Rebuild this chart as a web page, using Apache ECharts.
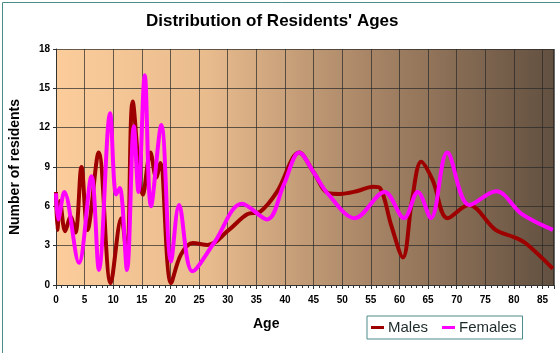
<!DOCTYPE html>
<html>
<head>
<meta charset="utf-8">
<script src="https://cdn.jsdelivr.net/npm/echarts@6/dist/echarts.min.js"></script>
<style>
html,body{margin:0;padding:0;background:#fff;}
#chart{width:560px;height:353px;}
</style>
</head>
<body>
<div id="chart"></div>
<script>
//数据
var maleAge=[0,0.25,0.7,1.6,2.55,3.4,4.45,5.5,7.45,9.55,11.4,12.4,13.4,15.2,16.5,17.5,18.2,20.1,21.8,23.9,26.5,30.2,33.4,35.7,38.6,42.5,45,47.6,49.6,52.5,55.4,56.6,58.6,60.6,62.2,63.8,65.8,68.4,72.1,76.8,80,82,86.8];
var maleCount=[7.1,4.2,6.4,4.1,5.2,4.0,9.0,4.2,10.1,0.15,5.1,2.0,14.0,6.9,10.1,8.2,9.3,0.15,2.3,3.2,3.05,4.2,5.4,5.6,7.1,10.1,8.6,7.0,6.95,7.15,7.5,7.4,4.5,2.1,6.5,9.4,8.0,5.1,6.1,4.2,3.65,3.2,1.25];
var femaleAge=[0,0.4,1.45,4.0,6.2,7.5,9.45,10.5,11.15,12.4,13.6,14.4,15.5,16.6,18.4,20.1,21.5,23.85,27.6,32.5,36.9,39.8,42.5,45,47.6,52.2,57.4,60.8,63.2,65.5,68.35,72.2,76.9,81.4,86.8];
var femaleCount=[7.0,5.0,7.1,1.7,8.3,1.15,13.1,6.9,7.4,1.15,12.1,7.1,16.0,6.0,12.2,1.8,6.1,1.05,3.2,6.2,5.0,7.65,10.1,8.6,6.9,5.1,7.1,5.1,7.1,5.1,10.1,6.1,7.15,5.4,4.2];
var xTicks=[0,87,5];
var yTicks=[0,18,3];

function pairs(a,b){
    var d=[];
    for(var i=0;i<a.length;i++){ d.push([a[i],b[i]]); }
    return d;
}

var myChart=echarts.init(document.getElementById('chart'));
var option={
    animation:false,
    backgroundColor:'#fff',
    title:{
        text:"Distribution of Residents' Ages",
        left:146,
        top:13,
        padding:0,
        textStyle:{fontFamily:'Liberation Sans, Arial',fontSize:17,fontWeight:'bold',color:'#000'}
    },
    legend:{
        left:367,
        top:316,
        padding:[4,6,4,4],
        itemGap:14,
        itemWidth:13,
        itemHeight:3,
        icon:'rect',
        borderColor:'#4d8c8c',
        borderWidth:1,
        textStyle:{fontFamily:'Liberation Sans, Arial',fontSize:15,color:'#1e2a2a',padding:[0,0,0,-1]},
        data:['Males','Females']
    },
    grid:{
        left:54,right:6,top:49,bottom:68,
        show:true,
        borderWidth:0,
        backgroundColor:new echarts.graphic.LinearGradient(0,0,1,0,[
            {offset:0,color:'#fccd9b'},
            {offset:0.3,color:'#e9bc8e'},
            {offset:0.63,color:'#a88566'},
            {offset:1,color:'#625040'}
        ])
    },
    xAxis:{
        type:'value',
        min:xTicks[0],max:xTicks[1],interval:xTicks[2],
        axisLine:{show:true,lineStyle:{color:'#333',width:1}},
        axisTick:{show:true,length:4,lineStyle:{color:'#333'}},
        minorTick:{show:true,splitNumber:5,length:3,lineStyle:{color:'#333'}},
        splitLine:{show:true,lineStyle:{color:'rgba(40,40,40,0.7)',width:1}},
        axisLabel:{
            margin:10,
            fontFamily:'Liberation Sans, Arial',fontSize:10,fontWeight:'bold',color:'#000',
            formatter:function(v){ return v%5===0 ? v : ''; }
        }
    },
    yAxis:{
        type:'value',
        min:yTicks[0],max:yTicks[1],interval:yTicks[2],
        name:'Number of residents',
        nameLocation:'middle',
        nameGap:34,
        nameTextStyle:{fontFamily:'Liberation Sans, Arial',fontSize:14,fontWeight:'bold',color:'#000'},
        axisLine:{show:true,lineStyle:{color:'#333',width:1}},
        axisTick:{show:true,length:3,lineStyle:{color:'#333'}},
        splitLine:{show:true,lineStyle:{color:'rgba(40,40,40,0.7)',width:1}},
        axisLabel:{margin:6,fontFamily:'Liberation Sans, Arial',fontSize:10,fontWeight:'bold',color:'#000'}
    },
    graphic:[
        {type:'rect',left:0,top:0,shape:{width:559,height:352},
         style:{fill:'none',stroke:'#4d8c8c',lineWidth:1},silent:true},
        {type:'rect',left:553,top:49,shape:{width:1,height:236},
         style:{fill:'#3a3028'},silent:true},
        {type:'text',left:253,top:317,
         style:{text:'Age',font:'bold 14px "Liberation Sans", Arial',fill:'#000'}}
    ],
    series:[
        {
            name:'Males',type:'line',smooth:0.35,symbol:'none',
            data:pairs(maleAge,maleCount),
            lineStyle:{color:'#9e0000',width:4},
            itemStyle:{color:'#9e0000'}
        },
        {
            name:'Females',type:'line',smooth:0.35,symbol:'none',
            data:pairs(femaleAge,femaleCount),
            lineStyle:{color:'#ff00ff',width:4},
            itemStyle:{color:'#ff00ff'}
        }
    ]
};
myChart.setOption(option);
</script>
</body>
</html>
